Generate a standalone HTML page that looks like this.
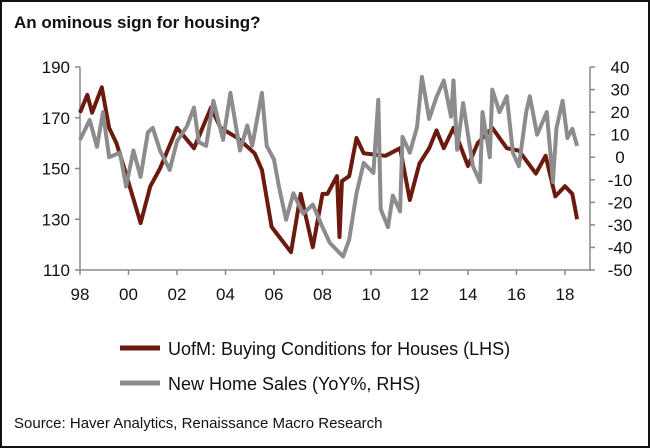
<!DOCTYPE html>
<html><head><meta charset="utf-8"><style>
body{margin:0;background:#fff;}
#wrap{position:relative;width:646px;height:444px;border:2px solid #111;font-family:"Liberation Sans",Arial,sans-serif;overflow:hidden;}
</style></head><body>
<div id="wrap">
<svg id="c" width="646" height="444"></svg>
</div>
<script>
const redYears=[1998.0,1998.3,1998.5,1998.9,1999.2,1999.5,1999.8,2000.5,2000.9,2001.3,2002.0,2002.7,2003.4,2003.8,2004.5,2005.2,2005.5,2005.9,2006.7,2007.1,2007.6,2008.0,2008.2,2008.6,2008.7,2008.8,2009.1,2009.4,2009.7,2010.6,2011.2,2011.6,2012.0,2012.4,2012.7,2013.0,2013.4,2014.0,2014.4,2015.0,2015.6,2016.1,2016.8,2017.2,2017.6,2018.0,2018.3,2018.5];
const redValues=[172,179,172,182,166,160,151,128.5,143,150,166,158,174,166,162,156,149.5,127,117,140,119,140,140,147,123,145,147,162,156,155,158,137.6,152,158,165,158,166,151,160,166,158,157,148,155,139,143,140,130];
const grayYears=[1998.0,1998.4,1998.7,1998.95,1999.2,1999.65,1999.9,2000.2,2000.5,2000.8,2001.0,2001.3,2001.7,2002.0,2002.4,2002.7,2002.9,2003.2,2003.5,2003.9,2004.2,2004.6,2004.9,2005.1,2005.5,2005.7,2006.0,2006.2,2006.5,2006.8,2007.2,2007.6,2008.0,2008.3,2008.85,2009.1,2009.4,2009.7,2010.1,2010.3,2010.4,2010.7,2010.9,2011.2,2011.3,2011.6,2011.9,2012.1,2012.4,2012.7,2013.0,2013.3,2013.4,2013.55,2013.8,2014.2,2014.5,2014.6,2014.9,2015.0,2015.3,2015.6,2015.85,2016.1,2016.4,2016.55,2016.85,2017.25,2017.5,2017.65,2017.9,2018.1,2018.3,2018.5];
const grayValues=[7.7,16.5,4.6,20,0,2,-13,3,-8.7,11,13,3,-5.6,7,13.5,22,6.7,5,25,7.7,28.5,3,14,5,28.5,5,-1,-13,-27.7,-16,-25,-21,-31,-38,-44,-36.5,-16,-2.5,-7,25.4,-23,-31,-17,-24,9,2,13.5,35.6,17,26.7,34,18,34,3.3,24,-4,-11,20,0,30,20,27,2,-4,20,27,10,20,-11,13,25,8.5,12.6,5];
const leftTicks=[110,130,150,170,190];
const rightTicks=[-50,-40,-30,-20,-10,0,10,20,30,40];
const xTickLabels=["98","00","02","04","06","08","10","12","14","16","18"];

const NS="http://www.w3.org/2000/svg";
const svg=document.getElementById('c');
const X0=78,X1=588,YT=65,YB=268;
const xs=y=>X0+(y-1998)*24.25;
const yl=v=>YB-(v-110)/80*(YB-YT);
const yr=v=>YB-(v+50)/90*(YB-YT);
function mk(t,a,txt){const e=document.createElementNS(NS,t);for(const k in a)e.setAttribute(k,a[k]);if(txt!==undefined)e.textContent=txt;svg.appendChild(e);return e;}

let e=mk('text',{x:12,y:26,'font-size':17,'font-weight':'bold',fill:'#111'},'An ominous sign for housing?');



e=mk('line',{x1:X0,y1:YT,x2:X0,y2:YB,stroke:'#888','stroke-width':1.5});


e=mk('line',{x1:X1,y1:YT,x2:X1,y2:YB,stroke:'#888','stroke-width':1.5});


e=mk('line',{x1:X0,y1:YB,x2:X1,y2:YB,stroke:'#888','stroke-width':1.5});



leftTicks.forEach(v=>{
  mk('line',{x1:X0-5,y1:yl(v),x2:X0,y2:yl(v),stroke:'#888','stroke-width':1.5});
  const t=mk('text',{x:X0-10,y:yl(v)+6,'font-size':17,'text-anchor':'end',fill:'#111'},String(v));
  
  
});
rightTicks.forEach(v=>{
  mk('line',{x1:X1,y1:yr(v),x2:X1+5,y2:yr(v),stroke:'#888','stroke-width':1.5});
  const t=mk('text',{x:X1+30,y:yr(v)+6,'font-size':17,'text-anchor':'middle',fill:'#111'},String(v));
  
  
});
xTickLabels.forEach((l,i)=>{
  const x=xs(1998+2*i);
  mk('line',{x1:x,y1:YB,x2:x,y2:YB+5,stroke:'#888','stroke-width':1.5});
  const t=mk('text',{x:x,y:YB+30,'font-size':17,'text-anchor':'middle',fill:'#111'},l);
  
  
});

function pts(ys,vs,f){return ys.map((y,i)=>xs(y).toFixed(1)+','+f(vs[i]).toFixed(1)).join(' ');}
e=mk('polyline',{points:pts(redYears,redValues,yl),fill:'none',stroke:'#6b1a0e','stroke-width':4,'stroke-linejoin':'round'});


e=mk('polyline',{points:pts(grayYears,grayValues,yr),fill:'none',stroke:'#8c8c8c','stroke-width':4,'stroke-linejoin':'round'});



e=mk('line',{x1:118,y1:346,x2:158,y2:346,stroke:'#6b1a0e','stroke-width':5});


e=mk('text',{x:166,y:353,'font-size':18,fill:'#111'},'UofM: Buying Conditions for Houses (LHS)');


e=mk('line',{x1:118,y1:381,x2:158,y2:381,stroke:'#8c8c8c','stroke-width':5});


e=mk('text',{x:166,y:388,'font-size':18,fill:'#111'},'New Home Sales (YoY%, RHS)');


e=mk('text',{x:12,y:426,'font-size':15,fill:'#111'},'Source: Haver Analytics, Renaissance Macro Research');


</script>
</body></html>
